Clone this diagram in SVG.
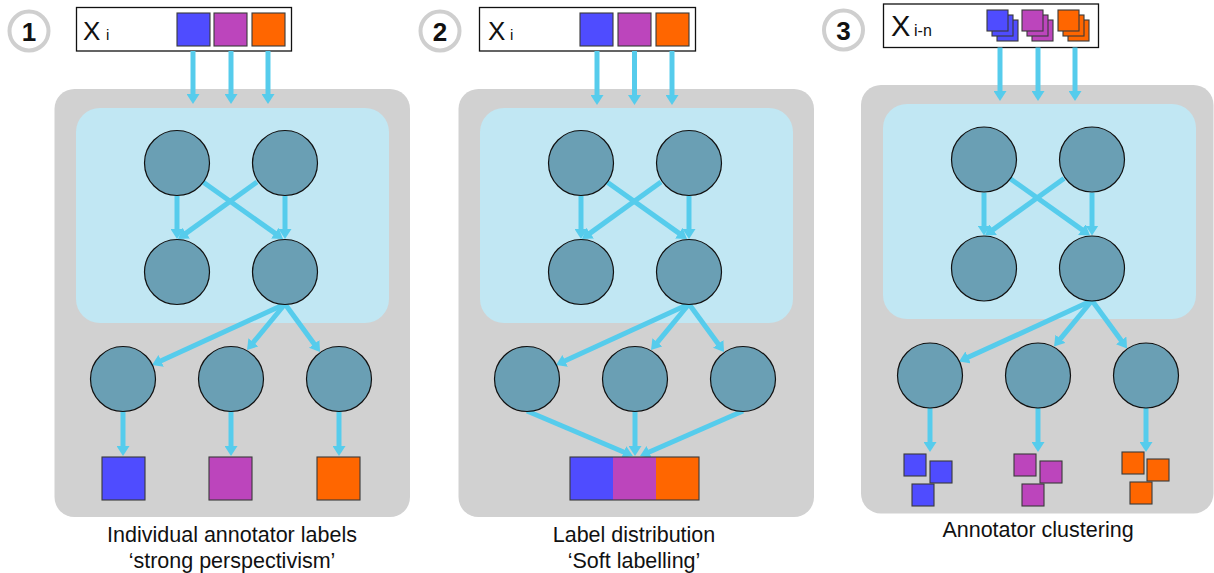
<svg xmlns="http://www.w3.org/2000/svg" width="1214" height="573" viewBox="0 0 1214 573">
<style>
.panel{fill:#D1D1D1}
.inner{fill:#C1E7F3}
.neuron{fill:#6A9FB4;stroke:#111;stroke-width:1.2}
.xbox{fill:#fff;stroke:#111;stroke-width:1.3}
.sq{stroke:#3a3a3a;stroke-width:1.1}
.b{fill:#4F4CFF}.p{fill:#BC45BC}.o{fill:#FF6600}
.arr{stroke:#56CCEC;stroke-width:5;fill:none;marker-end:url(#ah)}
.badge{fill:#fff;stroke:#CFCFCF;stroke-width:4}
.num{font-family:"Liberation Sans",Arial,sans-serif;font-weight:bold;font-size:26px;text-anchor:middle;fill:#111}
.X{font-family:"Liberation Sans",Arial,sans-serif;font-size:26px;fill:#111}
.sub{font-family:"Liberation Sans",Arial,sans-serif;font-size:15px;fill:#111}
.cap{font-family:"Liberation Sans",Arial,sans-serif;font-size:21.5px;text-anchor:middle;fill:#111}
</style>
<defs>
<marker id="ah" viewBox="0 0 10 13" refX="3" refY="6.5" markerWidth="10" markerHeight="13" markerUnits="userSpaceOnUse" orient="auto">
<path d="M0,0 L10,6.5 L0,13 z" fill="#56CCEC"/>
</marker>
</defs>

<!-- badges -->
<g id="badge1"><circle class="badge" cx="29" cy="31" r="19.5"/><text class="num" x="29" y="40.5">1</text></g>
<g id="badge2"><circle class="badge" cx="440" cy="31" r="19.5"/><text class="num" x="440" y="40.5">2</text></g>
<g id="badge3"><circle class="badge" cx="843.5" cy="30" r="19.5"/><text class="num" x="843.5" y="39.5">3</text></g>

<!-- PANEL 1 -->
<g id="panel1">
<g id="p1-bg"><rect class="panel" x="54.5" y="89" width="355.5" height="428" rx="20"/><rect class="inner" x="76" y="108" width="313" height="215" rx="24"/></g>
<g id="p1-input"><rect class="xbox" x="76.5" y="7.5" width="215" height="43.5"/>
<text class="X" x="83" y="39.5">X</text><text class="sub" x="106" y="39.5">i</text>
<rect class="sq b" x="177" y="13" width="33" height="33"/><rect class="sq p" x="214" y="13" width="33" height="33"/><rect class="sq o" x="252" y="13" width="33" height="33"/></g>
<g id="p1-connectors">
<line class="arr" x1="193" y1="51" x2="193" y2="97"/><line class="arr" x1="231" y1="51" x2="231" y2="97"/><line class="arr" x1="268" y1="51" x2="268" y2="97"/>
<line class="arr" x1="177" y1="196" x2="177" y2="232"/><line class="arr" x1="285" y1="196" x2="285" y2="232"/>
<line class="arr" x1="203" y1="182" x2="277.3" y2="234.9"/><line class="arr" x1="257" y1="182" x2="183.7" y2="234.9"/>
<line class="arr" x1="285" y1="304" x2="158.4" y2="362.1"/><line class="arr" x1="285" y1="304" x2="251.5" y2="344.6"/><line class="arr" x1="285" y1="304" x2="315.9" y2="346.3"/>
<line class="arr" x1="123" y1="411" x2="123" y2="449"/><line class="arr" x1="231" y1="411" x2="231" y2="449"/><line class="arr" x1="339" y1="411" x2="339" y2="449"/>
</g>
<g id="p1-n1"><circle class="neuron" cx="177" cy="163" r="32.5"/></g>
<g id="p1-n2"><circle class="neuron" cx="285" cy="163" r="32.5"/></g>
<g id="p1-n3"><circle class="neuron" cx="177" cy="272" r="32.5"/></g>
<g id="p1-n4"><circle class="neuron" cx="285" cy="272" r="32.5"/></g>
<g id="p1-o1"><circle class="neuron" cx="123" cy="379" r="32.5"/></g>
<g id="p1-o2"><circle class="neuron" cx="231" cy="379" r="32.5"/></g>
<g id="p1-o3"><circle class="neuron" cx="339" cy="379" r="32.5"/></g>
<g id="p1-labels"><rect class="sq b" x="102" y="457" width="43" height="43"/><rect class="sq p" x="209" y="457" width="43" height="43"/><rect class="sq o" x="317" y="457" width="43" height="43"/></g>
<g id="p1-caption"><text class="cap" x="232" y="542">Individual annotator labels</text><text class="cap" x="232" y="568">‘strong perspectivism’</text></g>
</g>

<!-- PANEL 2 -->
<g id="panel2" transform="translate(404,0)">
<g id="p2-bg"><rect class="panel" x="54.5" y="89" width="355.5" height="428" rx="20"/><rect class="inner" x="76" y="108" width="313" height="215" rx="24"/></g>
<g id="p2-input"><rect class="xbox" x="75.5" y="7.5" width="216" height="43.5"/>
<text class="X" x="84" y="39.5">X</text><text class="sub" x="106" y="39.5">i</text>
<rect class="sq b" x="176" y="13" width="33" height="33"/><rect class="sq p" x="214" y="13" width="33" height="33"/><rect class="sq o" x="252" y="13" width="33" height="33"/></g>
<g id="p2-connectors">
<line class="arr" x1="193" y1="51" x2="193" y2="98"/><line class="arr" x1="230.5" y1="51" x2="230.5" y2="98"/><line class="arr" x1="268" y1="51" x2="268" y2="98"/>
<line class="arr" x1="177" y1="196" x2="177" y2="232"/><line class="arr" x1="285" y1="196" x2="285" y2="232"/>
<line class="arr" x1="203" y1="182" x2="277.3" y2="234.9"/><line class="arr" x1="257" y1="182" x2="183.7" y2="234.9"/>
<line class="arr" x1="285" y1="304" x2="158.4" y2="362.1"/><line class="arr" x1="285" y1="304" x2="251.5" y2="344.6"/><line class="arr" x1="285" y1="304" x2="315.9" y2="346.3"/>
<line class="arr" x1="123" y1="411" x2="222.5" y2="453.3"/><line class="arr" x1="231" y1="411" x2="231" y2="449"/><line class="arr" x1="339" y1="411" x2="242.4" y2="453.2"/>
</g>
<g id="p2-n1"><circle class="neuron" cx="177" cy="163" r="32.5"/></g>
<g id="p2-n2"><circle class="neuron" cx="285" cy="163" r="32.5"/></g>
<g id="p2-n3"><circle class="neuron" cx="177" cy="272" r="32.5"/></g>
<g id="p2-n4"><circle class="neuron" cx="285" cy="272" r="32.5"/></g>
<g id="p2-o1"><circle class="neuron" cx="123" cy="379" r="32.5"/></g>
<g id="p2-o2"><circle class="neuron" cx="231" cy="379" r="32.5"/></g>
<g id="p2-o3"><circle class="neuron" cx="339" cy="379" r="32.5"/></g>
<g id="p2-bar"><rect class="b" x="166" y="457" width="43" height="43"/><rect class="p" x="209" y="457" width="43" height="43"/><rect class="o" x="252" y="457" width="43" height="43"/><rect x="166" y="457" width="129" height="43" fill="none" stroke="#3a3a3a" stroke-width="1.1"/></g>
<g id="p2-caption"><text class="cap" x="230" y="542">Label distribution</text><text class="cap" x="230" y="568">‘Soft labelling’</text></g>
</g>

<!-- PANEL 3 -->
<g id="panel3" transform="translate(807,-3.5)">
<g id="p3-bg"><rect class="panel" x="54" y="88.5" width="352.5" height="428.5" rx="20"/><rect class="inner" x="76" y="107.5" width="313" height="215" rx="24"/></g>
<g id="p3-input"><rect class="xbox" x="76.5" y="7.5" width="215" height="43.5"/>
<text class="X" x="84" y="39.5" style="font-size:29px">X</text><text class="sub" x="107" y="39.5" style="font-size:16px">i-n</text>
<rect class="sq b" x="190" y="23.5" width="21" height="21"/><rect class="sq b" x="185" y="18.5" width="21" height="21"/><rect class="sq b" x="180" y="13.5" width="21" height="21"/>
<rect class="sq p" x="225" y="23.5" width="21" height="21"/><rect class="sq p" x="220" y="18.5" width="21" height="21"/><rect class="sq p" x="215" y="13.5" width="21" height="21"/>
<rect class="sq o" x="261" y="23.5" width="21" height="21"/><rect class="sq o" x="256" y="18.5" width="21" height="21"/><rect class="sq o" x="251" y="13.5" width="21" height="21"/></g>
<g id="p3-connectors">
<line class="arr" x1="193" y1="51" x2="193" y2="97.5"/><line class="arr" x1="231" y1="51" x2="231" y2="97.5"/><line class="arr" x1="268" y1="51" x2="268" y2="97.5"/>
<line class="arr" x1="177" y1="196" x2="177" y2="232"/><line class="arr" x1="285" y1="196" x2="285" y2="232"/>
<line class="arr" x1="203" y1="182" x2="277.3" y2="234.9"/><line class="arr" x1="257" y1="182" x2="183.7" y2="234.9"/>
<line class="arr" x1="285" y1="304" x2="158.4" y2="362.1"/><line class="arr" x1="285" y1="304" x2="251.5" y2="344.6"/><line class="arr" x1="285" y1="304" x2="315.9" y2="346.3"/>
<line class="arr" x1="123" y1="411" x2="123" y2="448.5"/><line class="arr" x1="231" y1="411" x2="231" y2="448.5"/><line class="arr" x1="339" y1="411" x2="339" y2="448.5"/>
</g>
<g id="p3-n1"><circle class="neuron" cx="177" cy="163" r="32.5"/></g>
<g id="p3-n2"><circle class="neuron" cx="285" cy="163" r="32.5"/></g>
<g id="p3-n3"><circle class="neuron" cx="177" cy="272" r="32.5"/></g>
<g id="p3-n4"><circle class="neuron" cx="285" cy="272" r="32.5"/></g>
<g id="p3-o1"><circle class="neuron" cx="123" cy="379" r="32.5"/></g>
<g id="p3-o2"><circle class="neuron" cx="231" cy="379" r="32.5"/></g>
<g id="p3-o3"><circle class="neuron" cx="339" cy="379" r="32.5"/></g>
<g id="p3-clusters">
<rect class="sq b" x="97" y="457.5" width="22" height="22"/><rect class="sq b" x="123" y="464.5" width="22" height="22"/><rect class="sq b" x="105" y="487.5" width="22" height="22"/>
<rect class="sq p" x="207" y="457.5" width="22" height="22"/><rect class="sq p" x="233" y="464.5" width="22" height="22"/><rect class="sq p" x="215" y="487.5" width="22" height="22"/>
<rect class="sq o" x="315" y="455.5" width="22" height="22"/><rect class="sq o" x="340" y="462.5" width="22" height="22"/><rect class="sq o" x="323" y="485.5" width="22" height="22"/>
</g>
<g id="p3-caption"><text class="cap" x="231" y="540.5">Annotator clustering</text></g>
</g>
</svg>
